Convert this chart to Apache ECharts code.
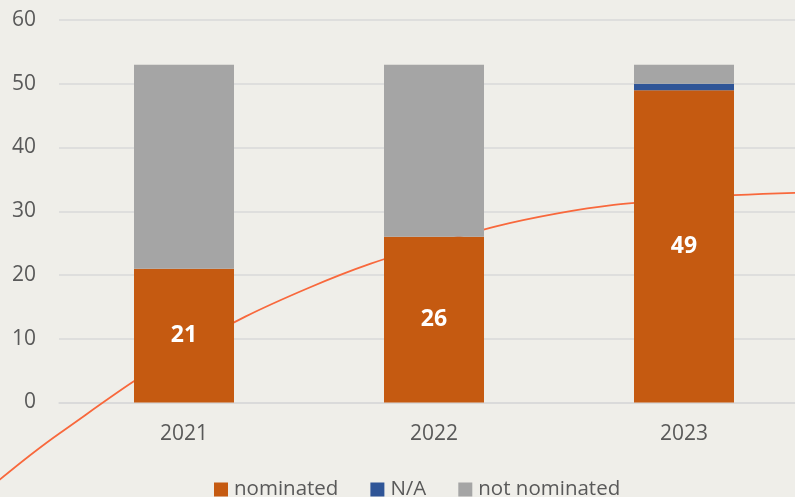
<!DOCTYPE html>
<html>
<head>
<meta charset="utf-8">
<script src="https://cdn.jsdelivr.net/npm/echarts@6/dist/echarts.min.js"></script>
<style>
html,body{margin:0;padding:0;background:#EFEEE9;}
#chart{width:795px;height:497px;}
</style>
</head>
<body>
<div id="chart"></div>
<script>
const categories = ['2021', '2022', '2023'];
const nominated = [21, 26, 49];
const notApplicable = [0, 0, 1];
const notNominated = [32, 27, 3];
const yTicks = [0, 10, 20, 30, 40, 50, 60];
// trend curve: position in category units (0 = 2021) and value
const trendX = [-0.74, -0.5, 0, 0.5, 1, 1.5, 2, 2.45];
const trendY = [-12.2, -4.9, 8.2, 18.0, 24.9, 29.7, 32.0, 32.9];

const W = 795, H = 497;
const gLeft = 59, gWidth = 750, gTop = 20, gHeight = 382.5;
const yMin = yTicks[0], yMax = yTicks[yTicks.length - 1];
// overlay grid covering the whole canvas, with axes aligned to the main grid
const unitX = gWidth / categories.length;           // px per category
const unitY = gHeight / (yMax - yMin);              // px per value unit
const oxMin = -0.5 - gLeft / unitX;
const oxMax = oxMin + W / unitX;
const oyMax = yMax + gTop / unitY;
const oyMin = oyMax - H / unitY;

const chart = echarts.init(document.getElementById('chart'));
const font = "'Open Sans', sans-serif";
chart.setOption({
  backgroundColor: '#EFEEE9',
  animation: false,
  textStyle: { fontFamily: font },
  grid: [
    { left: gLeft, top: gTop, width: gWidth, height: gHeight, outerBoundsMode: 'none', containLabel: false },
    { left: 0, top: 0, width: W, height: H, outerBoundsMode: 'none', containLabel: false }
  ],
  legend: {
    top: 474,
    left: 209,
    itemWidth: 14,
    itemHeight: 14,
    itemGap: 32,
    icon: 'rect',
    textStyle: { fontSize: 20.5, color: '#595959', fontFamily: font, padding: [0, 0, 0, 1] },
    data: ['nominated', 'N/A', 'not nominated']
  },
  xAxis: [
    {
      type: 'category',
      gridIndex: 0,
      data: categories,
      axisLine: { lineStyle: { color: '#D9D9D9', width: 1.5 } },
      axisTick: { show: false },
      axisLabel: { fontSize: 21, color: '#595959', margin: 21, fontFamily: font }
    },
    { type: 'value', gridIndex: 1, min: oxMin, max: oxMax, show: false }
  ],
  yAxis: [
    {
      type: 'value',
      gridIndex: 0,
      min: yMin,
      max: yMax,
      interval: 10,
      axisLine: { show: false },
      axisTick: { show: false },
      axisLabel: { fontSize: 21, color: '#595959', margin: 23, fontFamily: font },
      splitLine: { lineStyle: { color: '#D9D9D9', width: 1.5 } }
    },
    { type: 'value', gridIndex: 1, min: oyMin, max: oyMax, show: false }
  ],
  series: [
    {
      name: 'trend',
      type: 'line',
      xAxisIndex: 1,
      yAxisIndex: 1,
      data: trendX.map((x, i) => [x, trendY[i]]),
      smooth: 0.4,
      clip: false,
      symbol: 'none',
      z: 1,
      lineStyle: { color: '#F8683C', width: 1.8 }
    },
    {
      name: 'nominated',
      type: 'bar',
      stack: 'total',
      barWidth: '40%',
      data: nominated,
      z: 3,
      itemStyle: { color: '#C55A11' },
      label: {
        show: true,
        position: 'inside',
        color: '#FFFFFF',
        fontWeight: 'bold',
        fontSize: 23,
        fontFamily: font
      }
    },
    {
      name: 'N/A',
      type: 'bar',
      stack: 'total',
      data: notApplicable,
      z: 3,
      itemStyle: { color: '#2F5597' }
    },
    {
      name: 'not nominated',
      type: 'bar',
      stack: 'total',
      data: notNominated,
      z: 3,
      itemStyle: { color: '#A5A5A5' }
    }
  ]
});
</script>
</body>
</html>
